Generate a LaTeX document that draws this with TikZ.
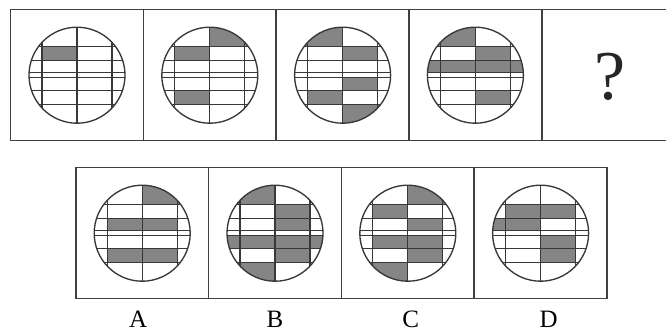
\documentclass[tikz,border=0pt]{standalone}
\usepackage{fontspec}
\setmainfont{Liberation Serif}
\usetikzlibrary{positioning}

% one ruled ball: #1 centre, #2 shaded cells as x1/x2/y1/y2
\newcommand\ballfig[2]{%
  \begin{scope}[shift={(#1)}]
    \begin{scope}
      \clip (0,0) circle (48);
      \foreach \xa/\xb/\ya/\yb in {#2}
        \fill[cellshade] (\xa,\ya) rectangle (\xb,\yb);
      \foreach \yy in {-29,-15,-2.5,2.5,15,29}
        \draw[gridline] (-50,\yy) -- (50,\yy);
      \foreach \xx in {-35,0,35}
        \draw[gridline] (\xx,-50) -- (\xx,50);
    \end{scope}
    \draw[gridline] (0,0) circle (48);
  \end{scope}}

\begin{document}
\begin{tikzpicture}[
    x=1pt, y=-1pt,
    panel/.style={draw=black!75, line width=1.5pt, minimum width=132.8pt,
                  minimum height=131pt, inner sep=0pt, outer sep=0pt},
    gridline/.style={draw=black!78, line width=1.35pt},
    cellshade/.style={fill=black!48},
    lbl/.style={font=\fontsize{25}{25}\selectfont, inner sep=0pt}
]
\useasboundingbox (0,0) rectangle (666,332);

% question row
\node[panel] (p1) at (77,75.2) {};
\node[panel, right=0pt of p1] (p2) {};
\node[panel, right=0pt of p2] (p3) {};
\node[panel, right=0pt of p3] (p4) {};
\node[panel, right=0pt of p4] (p5) {};

\ballfig{p1}{-35/0/-29/-15}
\ballfig{p2}{0/50/-50/-29, -35/0/-29/-15, -35/0/15/29}
\ballfig{p3}{-50/0/-50/-29, 0/35/-29/-15, 0/35/2.5/15, -35/0/15/29, 0/50/29/50}
\ballfig{p4}{-50/0/-50/-29, 0/35/-29/-15, -50/50/-15/-2.5, 0/35/15/29}
\node[font=\fontsize{70}{72}\selectfont, inner sep=0pt, text=black!85] (qmark)
    at ([xshift=2pt,yshift=-2pt]p5) {?};

% answer row
\node[panel] (pA) at (142.2,233.2) {};
\node[panel, right=0pt of pA] (pB) {};
\node[panel, right=0pt of pB] (pC) {};
\node[panel, right=0pt of pC] (pD) {};

\ballfig{pA}{0/50/-50/-29, -35/35/-15/-2.5, -35/35/15/29}
\ballfig{pB}{-50/0/-50/-29, 0/35/-29/-15, 0/35/-15/-2.5, -50/50/2.5/15, 0/35/15/29, -50/0/29/50}
\ballfig{pC}{0/50/-50/-29, -35/0/-29/-15, 0/35/-15/-2.5, -35/35/2.5/15, 0/35/15/29, -50/0/29/50}
\ballfig{pD}{-35/35/-29/-15, -50/0/-15/-2.5, 0/35/2.5/15, 0/35/15/29}

\node[lbl] (labA) at ([xshift=-4pt,yshift=-20.5pt]pA.south) {A};
\node[lbl] (labB) at ([yshift=-20.5pt]pB.south) {B};
\node[lbl] (labC) at ([xshift=3pt,yshift=-20.5pt]pC.south) {C};
\node[lbl] (labD) at ([xshift=8pt,yshift=-20.5pt]pD.south) {D};
\end{tikzpicture}
\end{document}
